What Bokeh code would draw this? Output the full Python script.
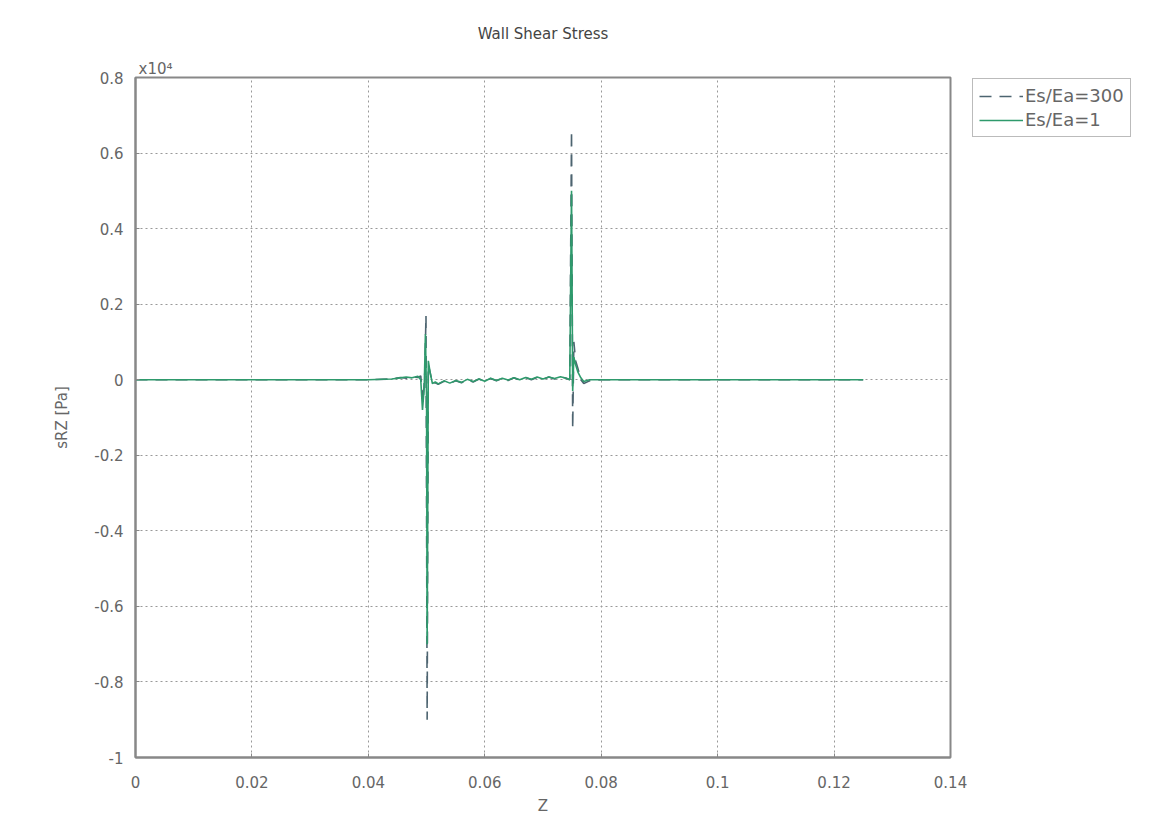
from bokeh.plotting import figure
from bokeh.models import Legend, LegendItem, Title, FixedTicker, Range1d
from bokeh.embed import file_html
from bokeh.resources import INLINE

# ---- data (sRZ in units of 1e4 Pa) ----
z_300 = [0.000, 0.040, 0.044, 0.0455, 0.0465, 0.0475, 0.0485, 0.0490, 0.0494, 0.0497,
         0.0499, 0.0501, 0.0503, 0.0506, 0.0510, 0.0515, 0.0520, 0.0530, 0.0540, 0.0550,
         0.0560, 0.0570, 0.0580, 0.0590, 0.0600, 0.0610, 0.0620, 0.0630, 0.0640, 0.0650,
         0.0660, 0.0670, 0.0680, 0.0690, 0.0700, 0.0710, 0.0720, 0.0730, 0.0740, 0.0746,
         0.0749, 0.0751, 0.0753, 0.0756, 0.0760, 0.0765, 0.0770, 0.0780, 0.0800, 0.1250]
s_300 = [0.000, 0.000, 0.002, 0.006, 0.004, 0.008, 0.006, 0.010, -0.060, 0.020,
         0.170, -0.900, 0.040, 0.020, -0.010, -0.008, -0.012, -0.004, -0.010, -0.003,
         -0.008, 0.000, -0.006, 0.002, -0.004, 0.003, -0.003, 0.004, -0.002, 0.005,
         -0.001, 0.006, 0.000, 0.006, 0.001, 0.007, 0.002, 0.008, 0.004, 0.000,
         0.660, -0.130, 0.100, 0.050, 0.030, 0.000, -0.010, -0.003, 0.000, 0.000]

z_1 = [0.000, 0.040, 0.044, 0.0455, 0.0465, 0.0475, 0.0485, 0.0490, 0.0493, 0.0496,
       0.0498, 0.0500, 0.0501, 0.0503, 0.0506, 0.0510, 0.0515, 0.0520, 0.0530, 0.0540,
       0.0550, 0.0560, 0.0570, 0.0580, 0.0590, 0.0600, 0.0610, 0.0620, 0.0630, 0.0640,
       0.0650, 0.0660, 0.0670, 0.0680, 0.0690, 0.0700, 0.0710, 0.0720, 0.0730, 0.0740,
       0.0746, 0.0749, 0.0751, 0.0753, 0.0756, 0.0760, 0.0765, 0.0770, 0.0780, 0.1250]
s_1 = [0.000, 0.000, 0.002, 0.005, 0.007, 0.005, 0.009, 0.000, -0.080, -0.020,
       0.120, -0.050, -0.700, 0.050, 0.020, -0.010, -0.006, -0.011, -0.003, -0.009,
       -0.002, -0.007, 0.001, -0.005, 0.002, -0.004, 0.004, -0.002, 0.004, -0.001,
       0.005, 0.000, 0.006, 0.001, 0.007, 0.002, 0.007, 0.003, 0.008, 0.004,
       0.000, 0.500, -0.030, 0.060, 0.040, 0.020, 0.005, -0.005, 0.000, 0.000]

x_ticks = [0, 0.02, 0.04, 0.06, 0.08, 0.1, 0.12, 0.14]
x_tick_labels = ["0", "0.02", "0.04", "0.06", "0.08", "0.1", "0.12", "0.14"]
y_ticks = [-1, -0.8, -0.6, -0.4, -0.2, 0, 0.2, 0.4, 0.6, 0.8]
y_tick_labels = ["-1", "-0.8", "-0.6", "-0.4", "-0.2", "0", "0.2", "0.4", "0.6", "0.8"]
series_labels = ["Es/Ea=300", "Es/Ea=1"]

FONT = "DejaVu Sans"
TXT = "#666666"

p = figure(frame_width=815, frame_height=680, output_backend="svg", toolbar_location=None,
           x_axis_label="Z", y_axis_label="sRZ [Pa]",
           min_border_left=135, min_border_right=10, min_border_top=77, min_border_bottom=50)
p.x_range = Range1d(0, 0.14)
p.y_range = Range1d(-1, 0.8)

exp_title = Title(text="x10\u2074", align="left", offset=3, standoff=0,
                  text_font=FONT, text_font_size="15px", text_font_style="normal",
                  text_color=TXT)
p.add_layout(exp_title, "above")
main_title = Title(text="Wall Shear Stress", align="center", standoff=29,
                   text_font=FONT, text_font_size="15px", text_font_style="normal",
                   text_color="#444444")
p.add_layout(main_title, "above")

r300 = p.line(z_300, s_300, line_color="#4d6470", line_width=1.6, line_dash="12 8")
r1 = p.line(z_1, s_1, line_color="#2e9a6c", line_width=1.6)

p.xaxis.ticker = FixedTicker(ticks=x_ticks)
p.yaxis.ticker = FixedTicker(ticks=y_ticks)
p.xaxis.major_label_overrides = {t: s for t, s in zip(x_ticks, x_tick_labels)}
p.yaxis.major_label_overrides = {t: s for t, s in zip(y_ticks, y_tick_labels)}
for ax in (p.xaxis, p.yaxis):
    ax.axis_line_color = "#888888"
    ax.axis_line_width = 2
    ax.major_tick_in = 4
    ax.major_tick_out = 0
    ax.major_tick_line_color = "#888888"
    ax.minor_tick_line_color = None
    ax.major_label_text_font = FONT
    ax.major_label_text_font_size = "15px"
    ax.major_label_text_color = TXT
    ax.axis_label_text_font = FONT
    ax.axis_label_text_font_size = "15px"
    ax.axis_label_text_font_style = "normal"
    ax.axis_label_text_color = TXT
p.xaxis.major_label_standoff = 18
p.yaxis.major_label_standoff = 12
p.xaxis.axis_label_standoff = 6
p.yaxis.axis_label_standoff = 20

p.outline_line_color = "#888888"
p.outline_line_width = 2
p.grid.grid_line_color = "#999999"
p.grid.grid_line_dash = "2 3"
p.grid.grid_line_width = 1

legend = Legend(items=[LegendItem(label=series_labels[0], renderers=[r300]),
                       LegendItem(label=series_labels[1], renderers=[r1])],
                location=(22, 620))
legend.border_line_color = "#777777"
legend.border_line_width = 1.5
legend.label_text_font = FONT
legend.label_text_font_size = "18px"
legend.label_text_color = TXT
legend.glyph_width = 44
legend.glyph_height = 18
legend.label_height = 18
legend.spacing = 3
legend.padding = 6
legend.margin = 0
legend.label_standoff = 2
p.add_layout(legend, "right")

open("out.html", "w").write(file_html(p, INLINE))
